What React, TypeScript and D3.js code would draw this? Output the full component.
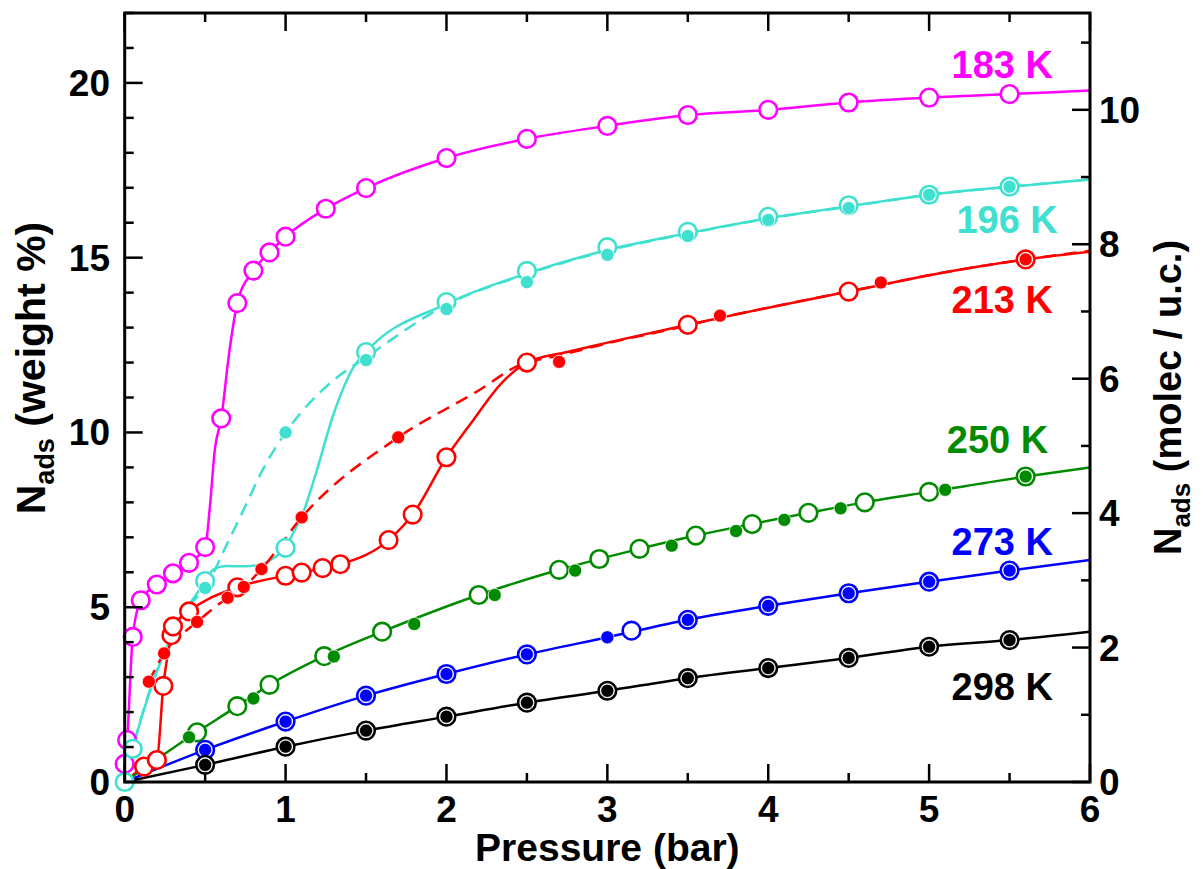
import React from "react";
import * as d3 from "d3";

type P = [number, number];

// ---------- data (pressure in bar, loading in weight %) ----------
const temperatures = ["183 K", "196 K", "213 K", "250 K", "273 K", "298 K"];

const t183Open: P[] = [[0.0, 0.52], [0.015, 1.2], [0.05, 4.15], [0.1, 5.2], [0.2, 5.65], [0.3, 5.97], [0.4, 6.27], [0.5, 6.72], [0.6, 10.4], [0.7, 13.7], [0.8, 14.63], [0.9, 15.15], [1.0, 15.6], [1.25, 16.4], [1.5, 16.99], [2.0, 17.85], [2.5, 18.4], [3.0, 18.77], [3.5, 19.08], [4.0, 19.23], [4.5, 19.44], [5.0, 19.58], [5.5, 19.68]];
const t183Line: P[] = [[0.0, 0.52], [0.015, 1.2], [0.05, 4.15], [0.1, 5.2], [0.2, 5.65], [0.3, 5.97], [0.4, 6.27], [0.5, 6.72], [0.53, 7.9], [0.56, 9.5], [0.6, 10.4], [0.65, 12.3], [0.7, 13.7], [0.8, 14.63], [0.9, 15.15], [1.0, 15.6], [1.25, 16.4], [1.5, 16.99], [2.0, 17.85], [2.5, 18.4], [3.0, 18.77], [3.5, 19.08], [4.0, 19.23], [4.5, 19.44], [5.0, 19.58], [5.5, 19.68], [6.0, 19.78]];

const t196Open: P[] = [[0.0, 0.0], [0.05, 0.95], [0.5, 5.75], [1.0, 6.7], [1.5, 12.3], [2.0, 13.73], [2.5, 14.62], [3.0, 15.3], [3.5, 15.74], [4.0, 16.17], [4.5, 16.5], [5.0, 16.8], [5.5, 17.03]];
const t196Filled: P[] = [[0.5, 5.55], [1.0, 10.0], [1.5, 12.07], [2.0, 13.53], [2.5, 14.3], [3.0, 15.08], [3.5, 15.62], [4.0, 16.08], [4.5, 16.42], [5.0, 16.8], [5.5, 17.03]];
const t196Line: P[] = [[0.0, 0.0], [0.05, 0.95], [0.15, 2.5], [0.25, 3.75], [0.35, 4.7], [0.45, 5.4], [0.5, 5.75], [0.55, 6.08], [0.63, 6.18], [0.75, 6.17], [0.85, 6.22], [0.93, 6.42], [1.0, 6.7], [1.05, 7.15], [1.1, 7.6], [1.18, 8.7], [1.3, 10.55], [1.42, 11.85], [1.5, 12.3], [2.0, 13.68], [2.5, 14.55], [3.0, 15.22], [3.5, 15.7], [4.0, 16.13], [4.5, 16.47], [5.0, 16.8], [5.5, 17.03], [6.0, 17.24]];
const t196Dash: P[] = [[0.0, 0.0], [0.1, 1.8], [0.2, 3.2], [0.3, 4.3], [0.4, 5.05], [0.5, 5.55], [0.63, 6.75], [0.73, 7.7], [0.86, 8.95], [1.0, 10.0], [1.13, 10.75], [1.3, 11.5], [1.5, 12.15], [2.0, 13.65], [2.5, 14.53], [3.0, 15.2], [3.5, 15.69], [4.0, 16.12], [4.5, 16.46], [5.0, 16.8], [5.5, 17.03], [6.0, 17.24]];

const t213Open: P[] = [[0.12, 0.44], [0.2, 0.63], [0.24, 2.75], [0.29, 4.2], [0.3, 4.45], [0.4, 4.88], [0.7, 5.57], [1.0, 5.9], [1.1, 5.99], [1.23, 6.12], [1.34, 6.23], [1.64, 6.92], [1.79, 7.65], [2.0, 9.29], [2.5, 12.0], [3.5, 13.08], [4.5, 14.03], [5.6, 14.95]];
const t213Filled: P[] = [[0.15, 2.87], [0.245, 3.68], [0.45, 4.58], [0.64, 5.27], [0.74, 5.58], [0.85, 6.09], [1.1, 7.57], [1.7, 9.86], [2.7, 12.02], [3.7, 13.34], [4.7, 14.29], [5.6, 14.95]];
const t213Line: P[] = [[0.0, 0.0], [0.12, 0.44], [0.2, 0.63], [0.24, 2.75], [0.29, 4.2], [0.3, 4.45], [0.4, 4.88], [0.7, 5.57], [1.0, 5.9], [1.1, 5.99], [1.23, 6.12], [1.34, 6.23], [1.64, 6.92], [1.79, 7.65], [2.0, 9.29], [2.15, 10.25], [2.35, 11.45], [2.5, 12.0], [2.75, 12.3], [3.0, 12.57], [3.5, 13.08], [4.0, 13.57], [4.5, 14.03], [5.0, 14.5], [5.6, 14.95], [6.0, 15.17]];
const t213Dash: P[] = [[0.15, 2.87], [0.245, 3.68], [0.45, 4.58], [0.64, 5.27], [0.74, 5.58], [0.85, 6.09], [1.1, 7.57], [1.7, 9.86], [2.2, 11.2], [2.45, 11.92], [2.7, 12.2], [3.0, 12.55], [3.5, 13.06], [3.7, 13.28], [4.0, 13.57], [4.7, 14.22], [5.0, 14.5], [5.6, 14.95], [6.0, 15.2]];

const t250Open: P[] = [[0.45, 1.42], [0.7, 2.17], [0.9, 2.78], [1.24, 3.6], [1.6, 4.3], [2.2, 5.35], [2.7, 6.07], [2.95, 6.38], [3.2, 6.67], [3.55, 7.05], [3.9, 7.38], [4.25, 7.7], [4.6, 8.0], [5.0, 8.3], [5.6, 8.74]];
const t250Filled: P[] = [[0.4, 1.28], [0.8, 2.39], [1.3, 3.59], [1.8, 4.52], [2.3, 5.35], [2.8, 6.05], [3.4, 6.76], [3.8, 7.18], [4.1, 7.5], [4.45, 7.83], [5.1, 8.36], [5.6, 8.74]];
const t250Line: P[] = [[0.0, 0.0], [0.4, 1.28], [0.7, 2.17], [0.9, 2.78], [1.24, 3.6], [1.6, 4.3], [2.2, 5.35], [2.7, 6.07], [3.2, 6.67], [3.55, 7.05], [3.9, 7.38], [4.25, 7.7], [4.6, 8.0], [5.0, 8.3], [5.6, 8.74], [6.0, 9.0]];

const t273Open: P[] = [[0.5, 0.92], [1.0, 1.73], [1.5, 2.47], [2.0, 3.09], [2.5, 3.65], [3.15, 4.33], [3.5, 4.64], [4.0, 5.04], [4.5, 5.4], [5.0, 5.73], [5.5, 6.05]];
const t273Filled: P[] = [[0.5, 0.92], [1.0, 1.73], [1.5, 2.47], [2.0, 3.09], [2.5, 3.65], [3.0, 4.14], [3.5, 4.64], [4.0, 5.04], [4.5, 5.4], [5.0, 5.73], [5.5, 6.05]];
const t273Line: P[] = [[0.0, 0.0], [0.5, 0.92], [1.0, 1.73], [1.5, 2.47], [2.0, 3.09], [2.5, 3.65], [3.0, 4.14], [3.5, 4.64], [4.0, 5.04], [4.5, 5.4], [5.0, 5.73], [5.5, 6.05], [6.0, 6.35]];

const t298Open: P[] = [[0.5, 0.49], [1.0, 1.01], [1.5, 1.47], [2.0, 1.87], [2.5, 2.27], [3.0, 2.61], [3.5, 2.97], [4.0, 3.26], [4.5, 3.55], [5.0, 3.87], [5.5, 4.06]];
const t298Filled: P[] = [[0.5, 0.49], [1.0, 1.01], [1.5, 1.47], [2.0, 1.87], [2.5, 2.27], [3.0, 2.61], [3.5, 2.97], [4.0, 3.26], [4.5, 3.55], [5.0, 3.87], [5.5, 4.06]];
const t298Line: P[] = [[0.0, 0.0], [0.5, 0.49], [1.0, 1.01], [1.5, 1.47], [2.0, 1.87], [2.5, 2.27], [3.0, 2.61], [3.5, 2.97], [4.0, 3.26], [4.5, 3.55], [5.0, 3.87], [5.5, 4.06], [6.0, 4.3]];

const xTicks = [0, 1, 2, 3, 4, 5, 6];
const yTicks = [0, 5, 10, 15, 20];
const yRightTicks = [0, 2, 4, 6, 8, 10];
const WT_PER_MOLEC = 1.923;

// ---------- styling / layout ----------
const COLORS = ["#ff00ff", "#40e0d0", "#ff0000", "#008b00", "#0000ff", "#000000"];
const LABEL_POS: P[] = [[5.77, 20.14], [5.8, 15.71], [5.77, 13.42], [5.74, 9.41], [5.77, 6.5], [5.77, 2.35]];

const series = [
  { open: t183Open, filled: [] as P[], line: t183Line, dash: null as P[] | null },
  { open: t196Open, filled: t196Filled, line: t196Line, dash: t196Dash },
  { open: t213Open, filled: t213Filled, line: t213Line, dash: t213Dash },
  { open: t250Open, filled: t250Filled, line: t250Line, dash: null },
  { open: t273Open, filled: t273Filled, line: t273Line, dash: null },
  { open: t298Open, filled: t298Filled, line: t298Line, dash: null },
];

const W = 1203, H = 869;
const L = 124.7, R = 1090, T = 13, B = 782;
const FONT = "'Liberation Sans', Arial, Helvetica, sans-serif";

export default function App() {
  const x = d3.scaleLinear().domain([0, 6]).range([L, R]);
  const y = d3.scaleLinear().domain([0, 22]).range([B, T]);
  const yR = d3.scaleLinear().domain([0, 22 / WT_PER_MOLEC]).range([B, T]);
  const lineGen = d3.line<P>().x((d) => x(d[0])).y((d) => y(d[1])).curve(d3.curveMonotoneX);

  const xMinor = d3.range(0.5, 6, 1);
  const yMinor = d3.range(0, 23, 1).filter((v) => v % 5 !== 0 && v <= 22);
  const yRMinor = d3.range(1, 12, 2).filter((v) => v <= 22 / WT_PER_MOLEC);

  const MAJ = 18, MIN = 9;

  return (
    <svg width={W} height={H} style={{ position: "absolute", left: 0, top: 0, background: "#fff" }} fontFamily={FONT}>
      <defs>
        <clipPath id="plot">
          <rect x={L} y={T} width={R - L} height={B - T} />
        </clipPath>
      </defs>
      <rect x={0} y={0} width={W} height={H} fill="#fff" />

      {/* lines */}
      <g clipPath="url(#plot)" fill="none" strokeWidth={2.5}>
        {series.map((s, i) => (
          <g key={i}>
            {s.dash && <path d={lineGen(s.dash) || ""} stroke={COLORS[i]} strokeDasharray="13,8" />}
            <path d={lineGen(s.line) || ""} stroke={COLORS[i]} />
          </g>
        ))}
      </g>

      {/* markers */}
      {series.map((s, i) => (
        <g key={"m" + i}>
          {s.open.map((d, j) => (
            <circle key={"o" + j} cx={x(d[0])} cy={y(d[1])} r={8.8} fill="#fff" stroke={COLORS[i]} strokeWidth={2.6} />
          ))}
          {s.filled.map((d, j) => (
            <circle key={"f" + j} cx={x(d[0])} cy={y(d[1])} r={6.6} fill={COLORS[i]} stroke="#fff" strokeWidth={0.8} />
          ))}
        </g>
      ))}

      {/* frame */}
      <rect x={L} y={T} width={R - L} height={B - T} fill="none" stroke="#000" strokeWidth={3} />

      {/* ticks */}
      <g stroke="#000" strokeWidth={2.5}>
        {xTicks.map((t) => (
          <g key={"xt" + t}>
            <line x1={x(t)} x2={x(t)} y1={B} y2={B - MAJ} />
            <line x1={x(t)} x2={x(t)} y1={T} y2={T + MAJ} />
          </g>
        ))}
        {xMinor.map((t) => (
          <g key={"xm" + t}>
            <line x1={x(t)} x2={x(t)} y1={B} y2={B - MIN} />
            <line x1={x(t)} x2={x(t)} y1={T} y2={T + MIN} />
          </g>
        ))}
        {yTicks.map((t) => (
          <line key={"yt" + t} x1={L} x2={L + MAJ} y1={y(t)} y2={y(t)} />
        ))}
        {yMinor.map((t) => (
          <line key={"ym" + t} x1={L} x2={L + MIN} y1={y(t)} y2={y(t)} />
        ))}
        {yRightTicks.map((t) => (
          <line key={"yr" + t} x1={R} x2={R - MAJ} y1={yR(t)} y2={yR(t)} />
        ))}
        {yRMinor.map((t) => (
          <line key={"yrm" + t} x1={R} x2={R - MIN} y1={yR(t)} y2={yR(t)} />
        ))}
      </g>

      {/* tick labels */}
      <g fontSize={37} fontWeight="bold" fill="#000">
        {xTicks.map((t) => (
          <text key={"xl" + t} x={x(t)} y={822} textAnchor="middle">{t}</text>
        ))}
        {yTicks.map((t) => (
          <text key={"yl" + t} x={110} y={y(t) + 13} textAnchor="end">{t}</text>
        ))}
        {yRightTicks.map((t) => (
          <text key={"yrl" + t} x={1099} y={yR(t) + 13} textAnchor="start">{t}</text>
        ))}
      </g>

      {/* axis titles */}
      <text x={(L + R) / 2} y={861} textAnchor="middle" fontSize={39} fontWeight="bold">Pressure (bar)</text>
      <text transform={`translate(45, 368) rotate(-90)`} textAnchor="middle" fontSize={41} fontWeight="bold">
        <tspan>N</tspan>
        <tspan fontSize={27} dy={9}>ads</tspan>
        <tspan dy={-9}> (weight %)</tspan>
      </text>
      <text transform={`translate(1181, ${(T + B) / 2}) rotate(-90)`} textAnchor="middle" fontSize={38} fontWeight="bold">
        <tspan>N</tspan>
        <tspan fontSize={26} dy={9}>ads</tspan>
        <tspan dy={-9}> (molec / u.c.)</tspan>
      </text>

      {/* series labels */}
      <g fontSize={38} fontWeight="bold" textAnchor="end">
        {temperatures.map((t, i) => (
          <text key={t} x={x(LABEL_POS[i][0])} y={y(LABEL_POS[i][1])} fill={COLORS[i]}>{t}</text>
        ))}
      </g>
    </svg>
  );
}
